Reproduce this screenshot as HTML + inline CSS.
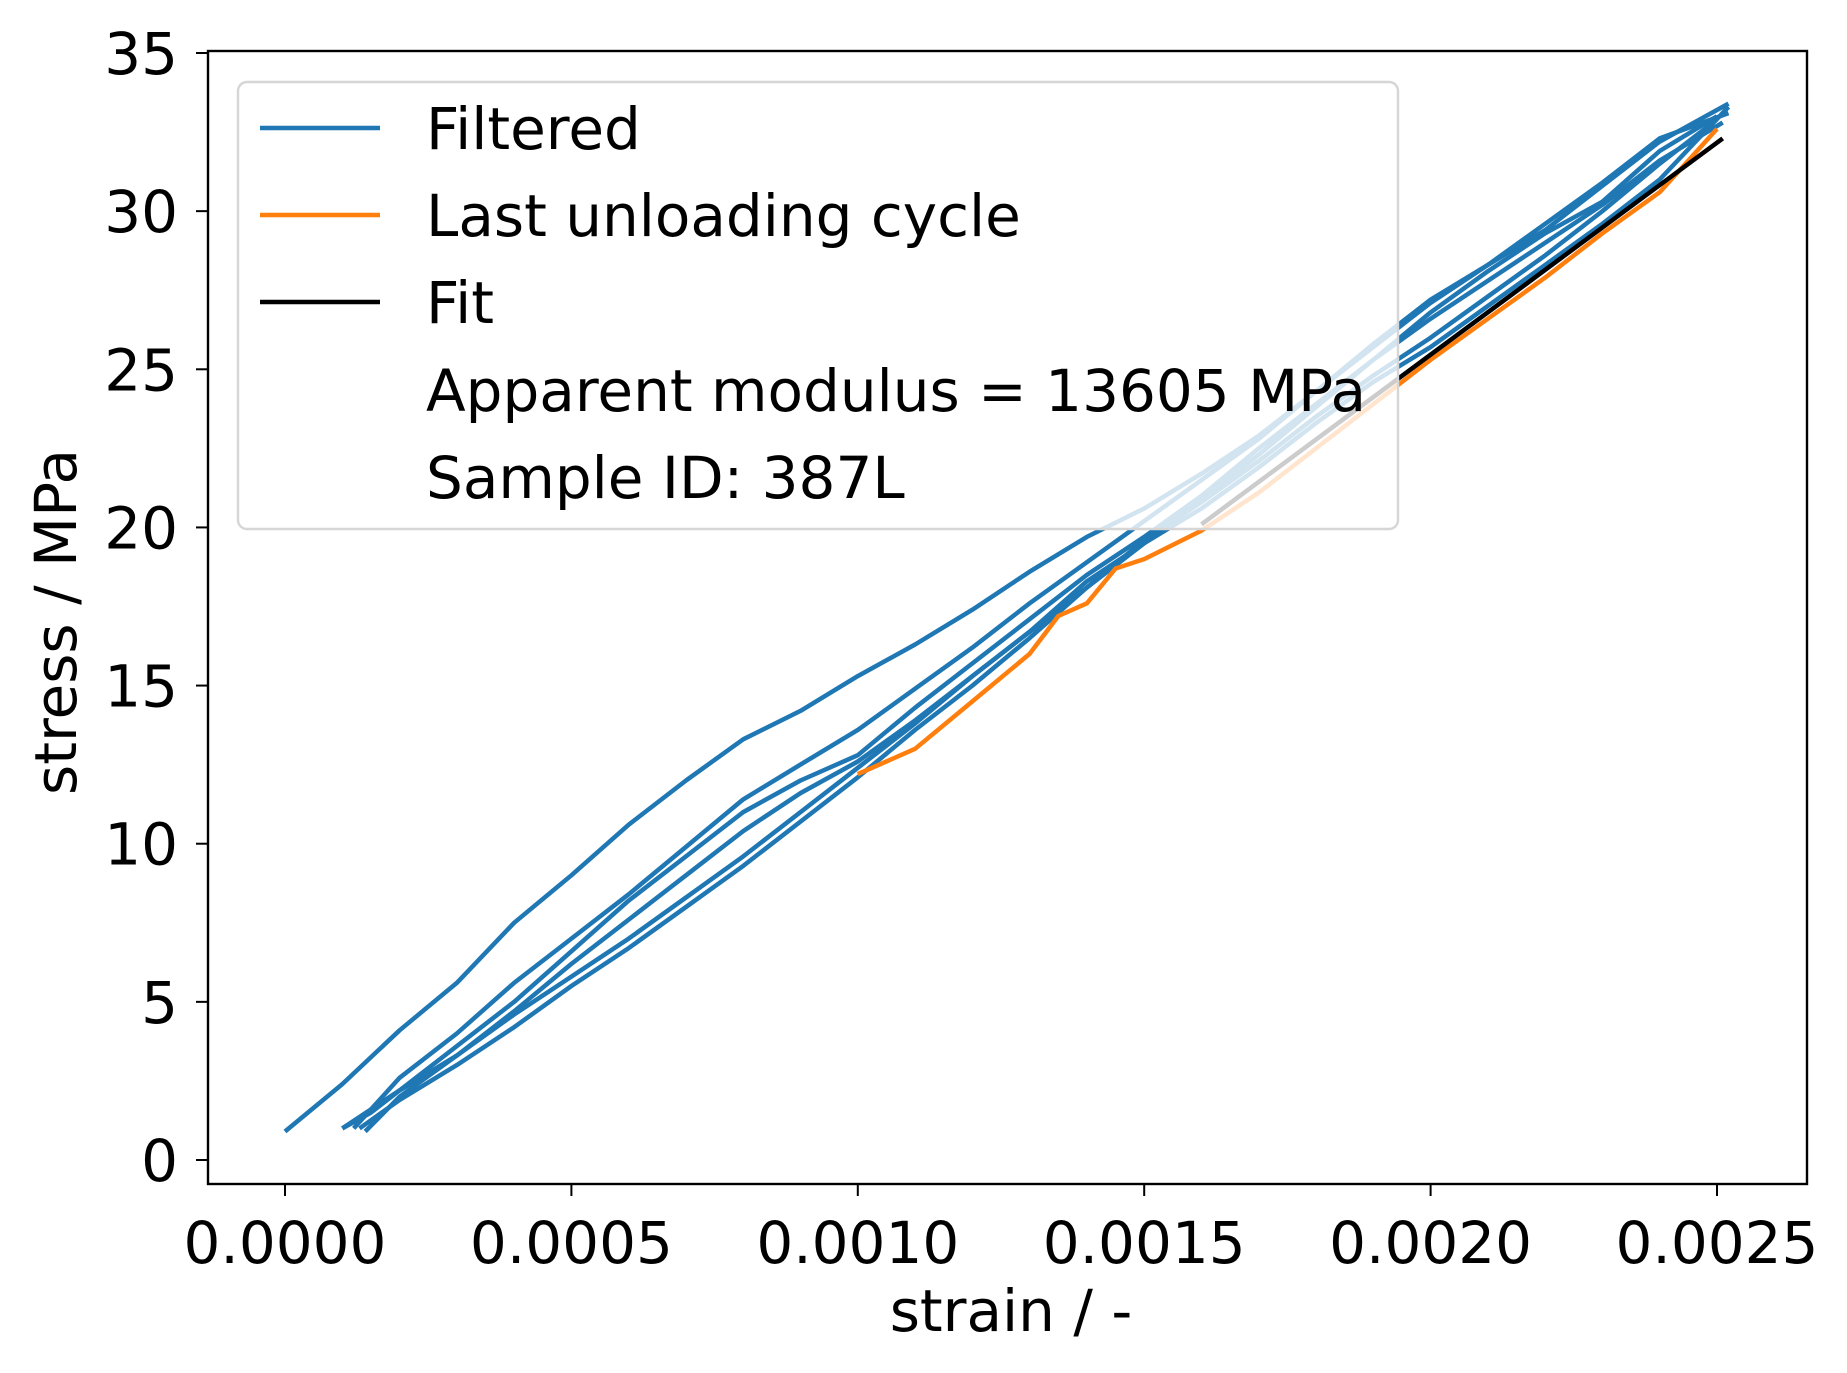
<!DOCTYPE html>
<html><head><meta charset="utf-8"><style>
body{margin:0;background:#fff}
svg{display:block;font-family:"DejaVu Sans","Liberation Sans",sans-serif}
</style></head><body>
<svg id="chart" width="1847" height="1373" viewBox="0 0 1847 1373">
<rect width="1847" height="1373" fill="#fff"/>
<g id="plot"></g>
<g id="axes"></g>
<g id="legend"></g>
</svg>
<script>
const xTicks=[0,0.0005,0.0010,0.0015,0.0020,0.0025];
const xTickLabels=["0.0000","0.0005","0.0010","0.0015","0.0020","0.0025"];
const yTicks=[0,5,10,15,20,25,30,35];
const blueLoadA_x=[0,0.0001,0.0002,0.0003,0.0004,0.0005,0.0006,0.0007,0.0008,0.0009,0.0010,0.0011,0.0012,0.0013,0.0014,0.0015,0.0016,0.0017,0.0018,0.0019,0.0020,0.0021,0.0022,0.0023,0.0024,0.00252];
const blueLoadA_y=[0.9,2.4,4.1,5.6,7.5,9.0,10.6,12.0,13.3,14.2,15.3,16.3,17.4,18.6,19.7,20.6,21.7,22.9,24.3,25.8,27.2,28.3,29.4,30.8,32.2,33.4];
const blueUnload_x=[0.00252,0.0024,0.0023,0.0022,0.0021,0.0020,0.0019,0.0018,0.0017,0.0016,0.0015,0.0014,0.0013,0.0012,0.0011,0.0010,0.0009,0.0008,0.0007,0.0006,0.0005,0.0004,0.0003,0.0002,0.00015,0.0001];
const blueUnload_y=[33.3,31.0,29.6,28.3,27.0,25.7,24.6,23.3,21.9,20.6,19.5,18.3,16.7,15.3,13.8,12.4,11.0,9.6,8.3,7.0,5.8,4.6,3.3,2.2,1.5,1.0];
const blueLoadB_x=[0.00012,0.0002,0.0003,0.0004,0.0005,0.0006,0.0007,0.0008,0.0009,0.0010,0.0011,0.0012,0.0013,0.0014,0.0015,0.0016,0.0017,0.0018,0.0019,0.0020,0.0021,0.0022,0.0023,0.0024,0.00252];
const blueLoadB_y=[1.0,2.6,4.0,5.6,7.0,8.4,9.9,11.4,12.5,13.6,14.9,16.2,17.6,18.9,20.2,21.5,22.8,24.3,25.7,27.1,28.3,29.6,30.9,32.3,33.1];
const blueLoadC_x=[0.00010,0.0002,0.0003,0.0004,0.0005,0.0006,0.0007,0.0008,0.0009,0.0010,0.0011,0.0012,0.0013,0.0014,0.0015,0.0016,0.0017,0.0018,0.0019,0.0020,0.0021,0.0022,0.0023,0.0024,0.0025];
const blueLoadC_y=[1.0,2.2,3.6,5.0,6.6,8.2,9.6,11.0,12.0,12.8,14.3,15.7,17.1,18.5,19.7,21.0,22.5,23.9,25.3,26.8,28.1,29.3,30.3,31.9,33.0];
const blueUnloadB_x=[0.00250,0.0024,0.0023,0.0022,0.0021,0.0020,0.0019,0.0018,0.0017,0.0016,0.0015,0.0014,0.0013,0.0012,0.0011,0.0010,0.0009,0.0008,0.0007,0.0006,0.0005,0.0004,0.0003,0.0002,0.00013];
const blueUnloadB_y=[32.9,31.5,30.0,28.6,27.3,26.0,24.8,23.5,22.1,20.8,19.6,18.1,16.5,15.0,13.6,12.1,10.7,9.3,8.0,6.7,5.5,4.2,3.0,1.9,1.0];
const blueLoadD_x=[0.00014,0.0002,0.0003,0.0004,0.0005,0.0006,0.0007,0.0008,0.0009,0.0010,0.0011,0.0012,0.0013,0.0014,0.0015,0.0016,0.0017,0.0018,0.0019,0.0020,0.0021,0.0022,0.0023,0.0024,0.00251];
const blueLoadD_y=[0.9,2.0,3.3,4.7,6.2,7.6,9.0,10.4,11.6,12.6,13.9,15.3,16.7,18.1,19.5,20.9,22.3,23.8,25.3,26.6,27.8,29.0,30.2,31.6,32.8];
const orange_x=[0.0010,0.0011,0.0012,0.0013,0.00135,0.0014,0.00145,0.0015,0.0016,0.0017,0.0018,0.0019,0.0020,0.0021,0.0022,0.0023,0.0024,0.0025];
const orange_y=[12.2,13.0,14.5,16.0,17.2,17.6,18.7,19.0,19.9,21.1,22.5,23.9,25.3,26.6,27.9,29.3,30.6,32.6];
const fit_x=[0.0016,0.00251];
const fit_y=[20.1,32.3];

const L=208,R=1807,T=51,B=1184;
const X0=285,XS=(1717-285)/0.0025;
const Y0=1160,YS=(1160-53)/35;
const sx=v=>X0+v*XS, sy=v=>Y0-v*YS;
const NS="http://www.w3.org/2000/svg";
const plot=document.getElementById('plot'),axes=document.getElementById('axes'),leg=document.getElementById('legend');
function mk(tag,attrs,parent){const e=document.createElementNS(NS,tag);for(const k in attrs)e.setAttribute(k,attrs[k]);parent.appendChild(e);return e;}
function line(xs,ys,color,name,w){
  const d=xs.map((x,i)=>(i?'L':'M')+sx(x).toFixed(1)+','+sy(ys[i]).toFixed(1)).join('');
  const p=mk('path',{d:d,fill:'none',stroke:color,'stroke-width':w||4.5,'stroke-linejoin':'round'},plot);
  
  
}
const blue='#1f77b4';
line(blueLoadA_x,blueLoadA_y,blue,'filtered-loading-1');
line(blueUnload_x,blueUnload_y,blue,'filtered-unloading-1');
line(blueLoadB_x,blueLoadB_y,blue,'filtered-loading-2');
line(blueLoadC_x,blueLoadC_y,blue,'filtered-loading-3');
line(blueLoadD_x,blueLoadD_y,blue,'filtered-loading-4');
line(blueUnloadB_x,blueUnloadB_y,blue,'filtered-unloading-2');
line(orange_x,orange_y,'#ff7f0e','last-unloading-cycle');
line(fit_x,fit_y,'#000','fit-line',4.5);

const frame=mk('rect',{x:L,y:T,width:R-L,height:B-T,fill:'none',stroke:'#000','stroke-width':2.4},axes);


xTicks.forEach((v,i)=>{
  const t=mk('line',{x1:sx(v),x2:sx(v),y1:B,y2:B+12,stroke:'#000','stroke-width':2},axes);
  
  
  const tx=mk('text',{x:sx(v),y:1263,'text-anchor':'middle','font-size':58},axes);
  tx.textContent=xTickLabels[i];
  
  
});
yTicks.forEach(v=>{
  const t=mk('line',{x1:L-12,x2:L,y1:sy(v),y2:sy(v),stroke:'#000','stroke-width':2},axes);
  
  
  const tx=mk('text',{x:L-30,y:sy(v)+21,'text-anchor':'end','font-size':58},axes);
  tx.textContent=String(v);
  
  
});
const xl=mk('text',{x:1011,y:1331,'text-anchor':'middle','font-size':58},axes);
xl.textContent='strain / -';


const yl=mk('text',{x:0,y:0,'text-anchor':'middle','font-size':58,transform:'translate(76,622) rotate(-90)'},axes);
yl.textContent='stress / MPa';



const box=mk('rect',{x:238,y:82,width:1160,height:447,rx:9,fill:'rgba(255,255,255,0.8)',stroke:'#d6d6d6','stroke-width':2.4},leg);


const entries=[['Filtered',blue],['Last unloading cycle','#ff7f0e'],['Fit','#000'],['Apparent modulus = 13605 MPa',null],['Sample ID: 387L',null]];
const rowsY=[128,215,302,390,477];
entries.forEach((e,i)=>{
  if(e[1]){
    const l=mk('line',{x1:260,x2:380,y1:rowsY[i],y2:rowsY[i],stroke:e[1],'stroke-width':4.5},leg);
    
    
  }
  const t=mk('text',{x:426,y:rowsY[i]+21,'font-size':58},leg);
  t.textContent=e[0];
  
  
});
</script>
</body></html>
